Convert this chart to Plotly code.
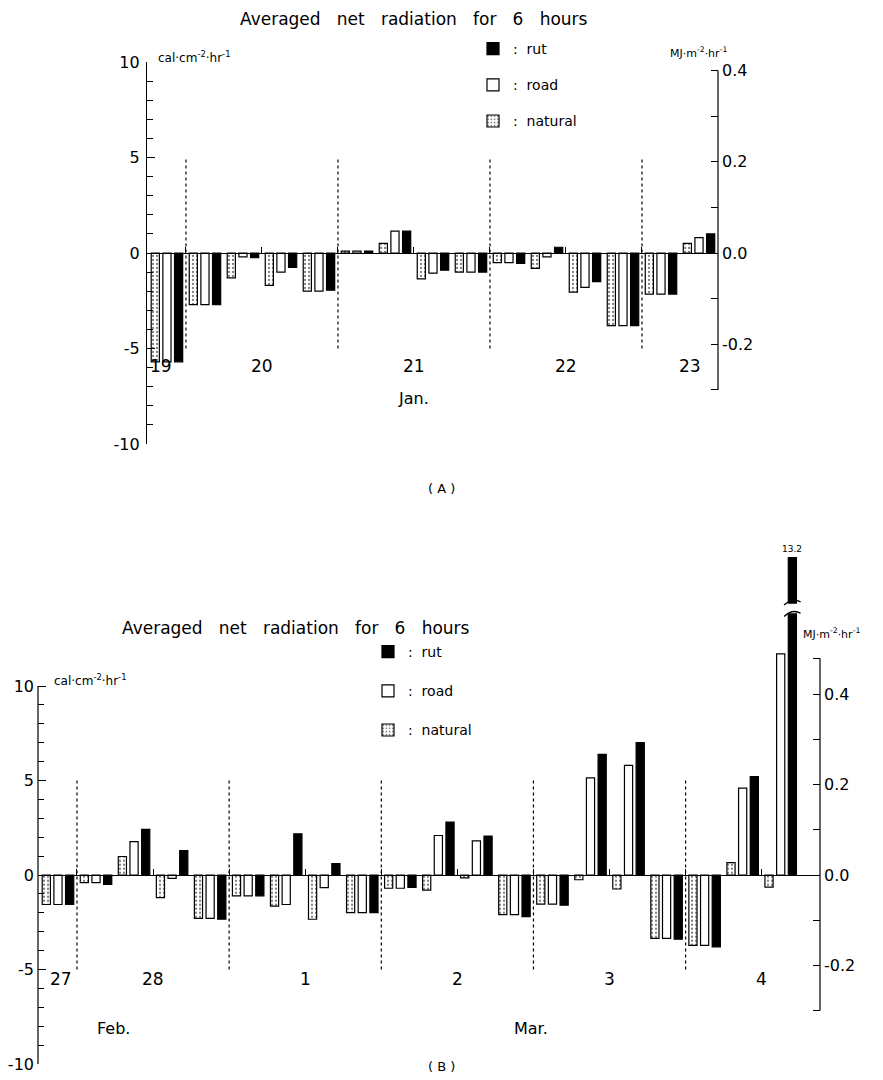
import plotly.graph_objects as go

# ---------------- DATA ----------------
K_MJ = 0.04184  # cal cm-2 hr-1  ->  MJ m-2 hr-1

# Panel A : 19-23 Jan, six-hour periods (start hour counted from 19 Jan 00h)
A_period_start = [18, 24, 30, 36, 42, 48, 54, 60, 66, 72, 78, 84, 90, 96, 102]
A_natural = [-5.7, -2.7, -1.3, -1.7, -2.0, 0.1, 0.5, -1.35, -1.0, -0.5, -0.8, -2.05, -3.8, -2.15, 0.5]
A_road    = [-5.7, -2.7, -0.2, -1.0, -2.0, 0.1, 1.15, -1.05, -1.0, -0.5, -0.2, -1.8, -3.8, -2.15, 0.8]
A_rut     = [-5.7, -2.7, -0.25, -0.75, -1.95, 0.1, 1.15, -0.9, -1.0, -0.55, 0.3, -1.5, -3.8, -2.15, 1.0]
A_day_labels = ["19", "20", "21", "22", "23"]
A_day_label_hour = [20, 36, 60, 84, 103.5]
A_month_labels = ["Jan."]
A_month_hour = [60]

# Panel B : 27 Feb - 4 Mar (start hour counted from 27 Feb 00h)
B_period_start = [18, 24, 30, 36, 42, 48, 54, 60, 66, 72, 78, 84, 90, 96, 102, 108, 114, 120, 126, 132]
B_natural = [-1.56, -0.4, 0.98, -1.2, -2.3, -1.1, -1.65, -2.34, -1.99, -0.7, -0.8, -0.15,
             -2.1, -1.54, -0.25, -0.74, -3.35, -3.72, 0.65, -0.64]
B_road    = [-1.56, -0.4, 1.77, -0.18, -2.3, -1.1, -1.56, -0.67, -1.99, -0.7, 2.09, 1.81,
             -2.1, -1.54, 5.14, 5.8, -3.35, -3.72, 4.6, 11.7]
B_rut     = [-1.56, -0.5, 2.41, 1.29, -2.34, -1.1, 2.18, 0.6, -1.99, -0.65, 2.8, 2.06,
             -2.2, -1.6, 6.38, 7.0, -3.4, -3.8, 5.2, 13.2]
B_day_labels = ["27", "28", "1", "2", "3", "4"]
B_day_label_hour = [21.5, 36, 60, 84, 108, 132]
B_month_labels = ["Feb.", "Mar."]
B_month_hour = [29.7, 95.6]

SERIES = ["natural", "road", "rut"]

# ---------------- LAYOUT / STYLE ----------------
W, H = 883, 1080
PAGE_OFFSET = 8          # the page body margin shifts the figure by this many pixels
FONT = "DejaVu Sans"
PERIOD = 6
BREAK_THRESHOLD = 12.5   # bars above this are drawn broken (off-scale)
BAR_CLIP = 16.8          # drawn height of a broken bar
BREAK_AT = 14.1          # where the break symbol sits
BARGAP = 0.08

def px(p):
    return (p - PAGE_OFFSET) / W

def py(p):
    return 1 - (p - PAGE_OFFSET) / H

# panel A geometry
A_XR = [17.85, 108]
A_YR = [-10, 10]
A_xdom = [px(147), px(718)]
A_ydom = [py(444), py(62)]
A_zero = py(253)
# panel B geometry
B_XR = [17.85, 141.2]
B_YR = [-10, 18]
B_unit = 18.9
B_zero_px = 875
B_xdom = [px(38), px(820)]
B_ydom = [py(B_zero_px - B_YR[0] * B_unit), py(B_zero_px - B_YR[1] * B_unit)]
B_zero = py(B_zero_px)

styles = {
    "natural": dict(color="white", line=dict(color="black", width=1.2),
                    pattern=dict(shape=".", fgcolor="black", bgcolor="white", size=4, solidity=0.25)),
    "road": dict(color="white", line=dict(color="black", width=1.2)),
    "rut": dict(color="black", line=dict(color="black", width=1.2)),
}
rank = {"rut": 1, "road": 2, "natural": 3}

fig = go.Figure()

A_mid = [s + PERIOD / 2 for s in A_period_start]
B_mid = [s + PERIOD / 2 for s in B_period_start]
A_vals = {"natural": A_natural, "road": A_road, "rut": A_rut}
B_vals = {"natural": B_natural, "road": B_road, "rut": B_rut}

for s in SERIES:
    fig.add_trace(go.Bar(x=A_mid, y=A_vals[s], xaxis="x", yaxis="y", name=":  " + s,
                         legend="legend", legendgroup="A" + s, legendrank=rank[s],
                         marker=styles[s]))
for s in SERIES:
    vals = [BAR_CLIP if v > BREAK_THRESHOLD else v for v in B_vals[s]]
    fig.add_trace(go.Bar(x=B_mid, y=vals, xaxis="x2", yaxis="y3", name=":  " + s,
                         legend="legend2", legendgroup="B" + s, legendrank=rank[s],
                         marker=styles[s]))

# invisible traces so the MJ axes are drawn
fig.add_trace(go.Scatter(x=[A_XR[0]], y=[0], xaxis="x", yaxis="y2", mode="markers",
                         marker=dict(opacity=0), showlegend=False, hoverinfo="skip"))
fig.add_trace(go.Scatter(x=[B_XR[0]], y=[0], xaxis="x2", yaxis="y4", mode="markers",
                         marker=dict(opacity=0), showlegend=False, hoverinfo="skip"))

tickfont = dict(family=FONT, size=16, color="black")

def left_axis(rng, dom, anchor, showline):
    return dict(range=rng, domain=dom, anchor=anchor, showgrid=False, zeroline=False,
                automargin=False,
                showline=showline, linecolor="black", linewidth=1.2,
                tickmode="array", tickvals=[-10, -5, 0, 5, 10],
                ticktext=["-10", "-5", "0", "5", "10"],
                ticks="inside", ticklen=8, tickcolor="black", tickwidth=1.2,
                minor=dict(tickmode="array", tickvals=[v for v in range(-10, 11) if v % 5],
                           ticks="inside", ticklen=6, tickcolor="black", tickwidth=1.2),
                tickfont=tickfont, ticklabelstandoff=3)

def right_axis(rng, over, anchor, top):
    minor_tv = [-0.3, -0.1, 0.1, 0.3]
    if top > 0.41:
        minor_tv.append(top)
    return dict(range=[r * K_MJ for r in rng], overlaying=over, anchor=anchor, side="right",
                showgrid=False, zeroline=False, showline=False, automargin=False,
                tickmode="array", tickvals=[-0.2, 0.0, 0.2, 0.4],
                ticktext=["-0.2", "0.0", "0.2", "0.4"],
                ticks="inside", ticklen=7, tickcolor="black", tickwidth=1.2,
                minor=dict(tickmode="array", tickvals=minor_tv, ticks="inside", ticklen=7,
                           tickcolor="black", tickwidth=1.2),
                tickfont=tickfont, ticklabelstandoff=3)

def zero_xaxis(rng, dom, pos):
    return dict(range=rng, domain=dom, anchor="free", position=pos, showgrid=False,
                zeroline=False, showline=True, linecolor="black", linewidth=1.2,
                automargin=False,
                tickmode="linear", tick0=0, dtick=12, ticks="inside", ticklen=6,
                tickcolor="black", tickwidth=1.2, showticklabels=False)

legend_common = dict(xanchor="left", yanchor="top", traceorder="grouped",
                     font=dict(family=FONT, size=14), bgcolor="rgba(0,0,0,0)")
fig.update_layout(
    width=W, height=H, margin=dict(l=0, r=0, t=0, b=0, autoexpand=False),
    paper_bgcolor="white", plot_bgcolor="white",
    barmode="group", bargap=BARGAP, bargroupgap=0.3,
    font=dict(family=FONT, color="black"),
    xaxis=zero_xaxis(A_XR, A_xdom, A_zero),
    yaxis=left_axis(A_YR, A_ydom, "x", True),
    yaxis2=right_axis(A_YR, "y", "x", 0.4),
    xaxis2=zero_xaxis(B_XR, B_xdom, B_zero),
    yaxis3=left_axis(B_YR, B_ydom, "x2", False),
    yaxis4=right_axis(B_YR, "y3", "x2", 0.48),
    legend=dict(x=px(473), y=py(33), tracegroupgap=15, **legend_common),
    legend2=dict(x=px(368), y=py(636), tracegroupgap=18, **legend_common),
    showlegend=True,
)

shapes = []
# explicit axis lines with limited extent
shapes.append(dict(type="line", xref="x domain", x0=1, x1=1, yref="y2", y0=-0.3, y1=0.4,
                   line=dict(color="black", width=1.2)))
shapes.append(dict(type="line", xref="x2 domain", x0=0, x1=0, yref="y3", y0=-10, y1=10,
                   line=dict(color="black", width=1.2)))
shapes.append(dict(type="line", xref="x2 domain", x0=1, x1=1, yref="y4", y0=-0.3, y1=0.48,
                   line=dict(color="black", width=1.2)))
# dotted day boundaries
for xr, yr, rng in (("x", "y", A_XR), ("x2", "y3", B_XR)):
    d = 24
    while d < rng[1] - 1:
        if d > rng[0]:
            shapes.append(dict(type="line", xref=xr, yref=yr, x0=d, x1=d, y0=-5, y1=5,
                               line=dict(color="black", width=1.2, dash="dot")))
        d += 24
fig.update_layout(shapes=shapes)

# broken-bar marker for off-scale values
slot = PERIOD * (1 - BARGAP) / 3
for i, v in enumerate(B_rut):
    if v > BREAK_THRESHOLD:
        xc = B_mid[i] + slot
        fig.add_shape(type="rect", xref="x2", yref="y3", x0=xc - 1.0, x1=xc + 1.0,
                      y0=BREAK_AT - 0.25, y1=BREAK_AT + 0.25, fillcolor="white",
                      line=dict(width=0))
        for dy in (-0.3, 0.3):
            fig.add_shape(type="path", xref="x2", yref="y3",
                          path=(f"M {xc-1.3},{BREAK_AT+dy-0.12} Q {xc},{BREAK_AT+dy+0.3} "
                                f"{xc+1.3},{BREAK_AT+dy+0.05}"),
                          line=dict(color="black", width=1.4))
        fig.add_annotation(x=xc, y=BAR_CLIP, xref="x2", yref="y3", text=f"{v}",
                           showarrow=False, yanchor="bottom", yshift=1,
                           font=dict(family=FONT, size=9))

ann = []
TITLE = "Averaged   net   radiation   for   6   hours"
# titles
ann.append(dict(x=px(414), y=py(19), text=TITLE, font=dict(family=FONT, size=17)))
ann.append(dict(x=px(296), y=py(628), text=TITLE, font=dict(family=FONT, size=17)))
# unit labels
ann.append(dict(x=px(156), y=py(57), xanchor="left",
                text="cal·cm<sup>-2</sup>·hr<sup>-1</sup>", font=dict(family=FONT, size=12)))
ann.append(dict(x=px(668), y=py(52), xanchor="left",
                text="MJ·m<sup>-2</sup>·hr<sup>-1</sup>", font=dict(family=FONT, size=11)))
ann.append(dict(x=px(52), y=py(680), xanchor="left",
                text="cal·cm<sup>-2</sup>·hr<sup>-1</sup>", font=dict(family=FONT, size=12)))
ann.append(dict(x=px(801), y=py(633), xanchor="left",
                text="MJ·m<sup>-2</sup>·hr<sup>-1</sup>", font=dict(family=FONT, size=11)))
# panel tags
ann.append(dict(x=px(441), y=py(488), text="( A )", font=dict(family=FONT, size=13)))
ann.append(dict(x=px(441), y=py(1066), text="( B )", font=dict(family=FONT, size=13)))
for a in ann:
    a.setdefault("xanchor", "center")
    fig.add_annotation(xref="paper", yref="paper", yanchor="middle", showarrow=False, **a)

# day and month labels (data coordinates)
for lab, h in zip(A_day_labels, A_day_label_hour):
    fig.add_annotation(x=h, y=-5.9, xref="x", yref="y", text=lab, showarrow=False,
                       yanchor="middle", font=dict(family=FONT, size=17))
for lab, h in zip(A_month_labels, A_month_hour):
    fig.add_annotation(x=h, y=-7.6, xref="x", yref="y", text=lab, showarrow=False,
                       yanchor="middle", font=dict(family=FONT, size=16))
for lab, h in zip(B_day_labels, B_day_label_hour):
    fig.add_annotation(x=h, y=-5.5, xref="x2", yref="y3", text=lab, showarrow=False,
                       yanchor="middle", font=dict(family=FONT, size=17))
for lab, h in zip(B_month_labels, B_month_hour):
    fig.add_annotation(x=h, y=-8.1, xref="x2", yref="y3", text=lab, showarrow=False,
                       yanchor="middle", font=dict(family=FONT, size=16))

fig.write_html("out.html")
